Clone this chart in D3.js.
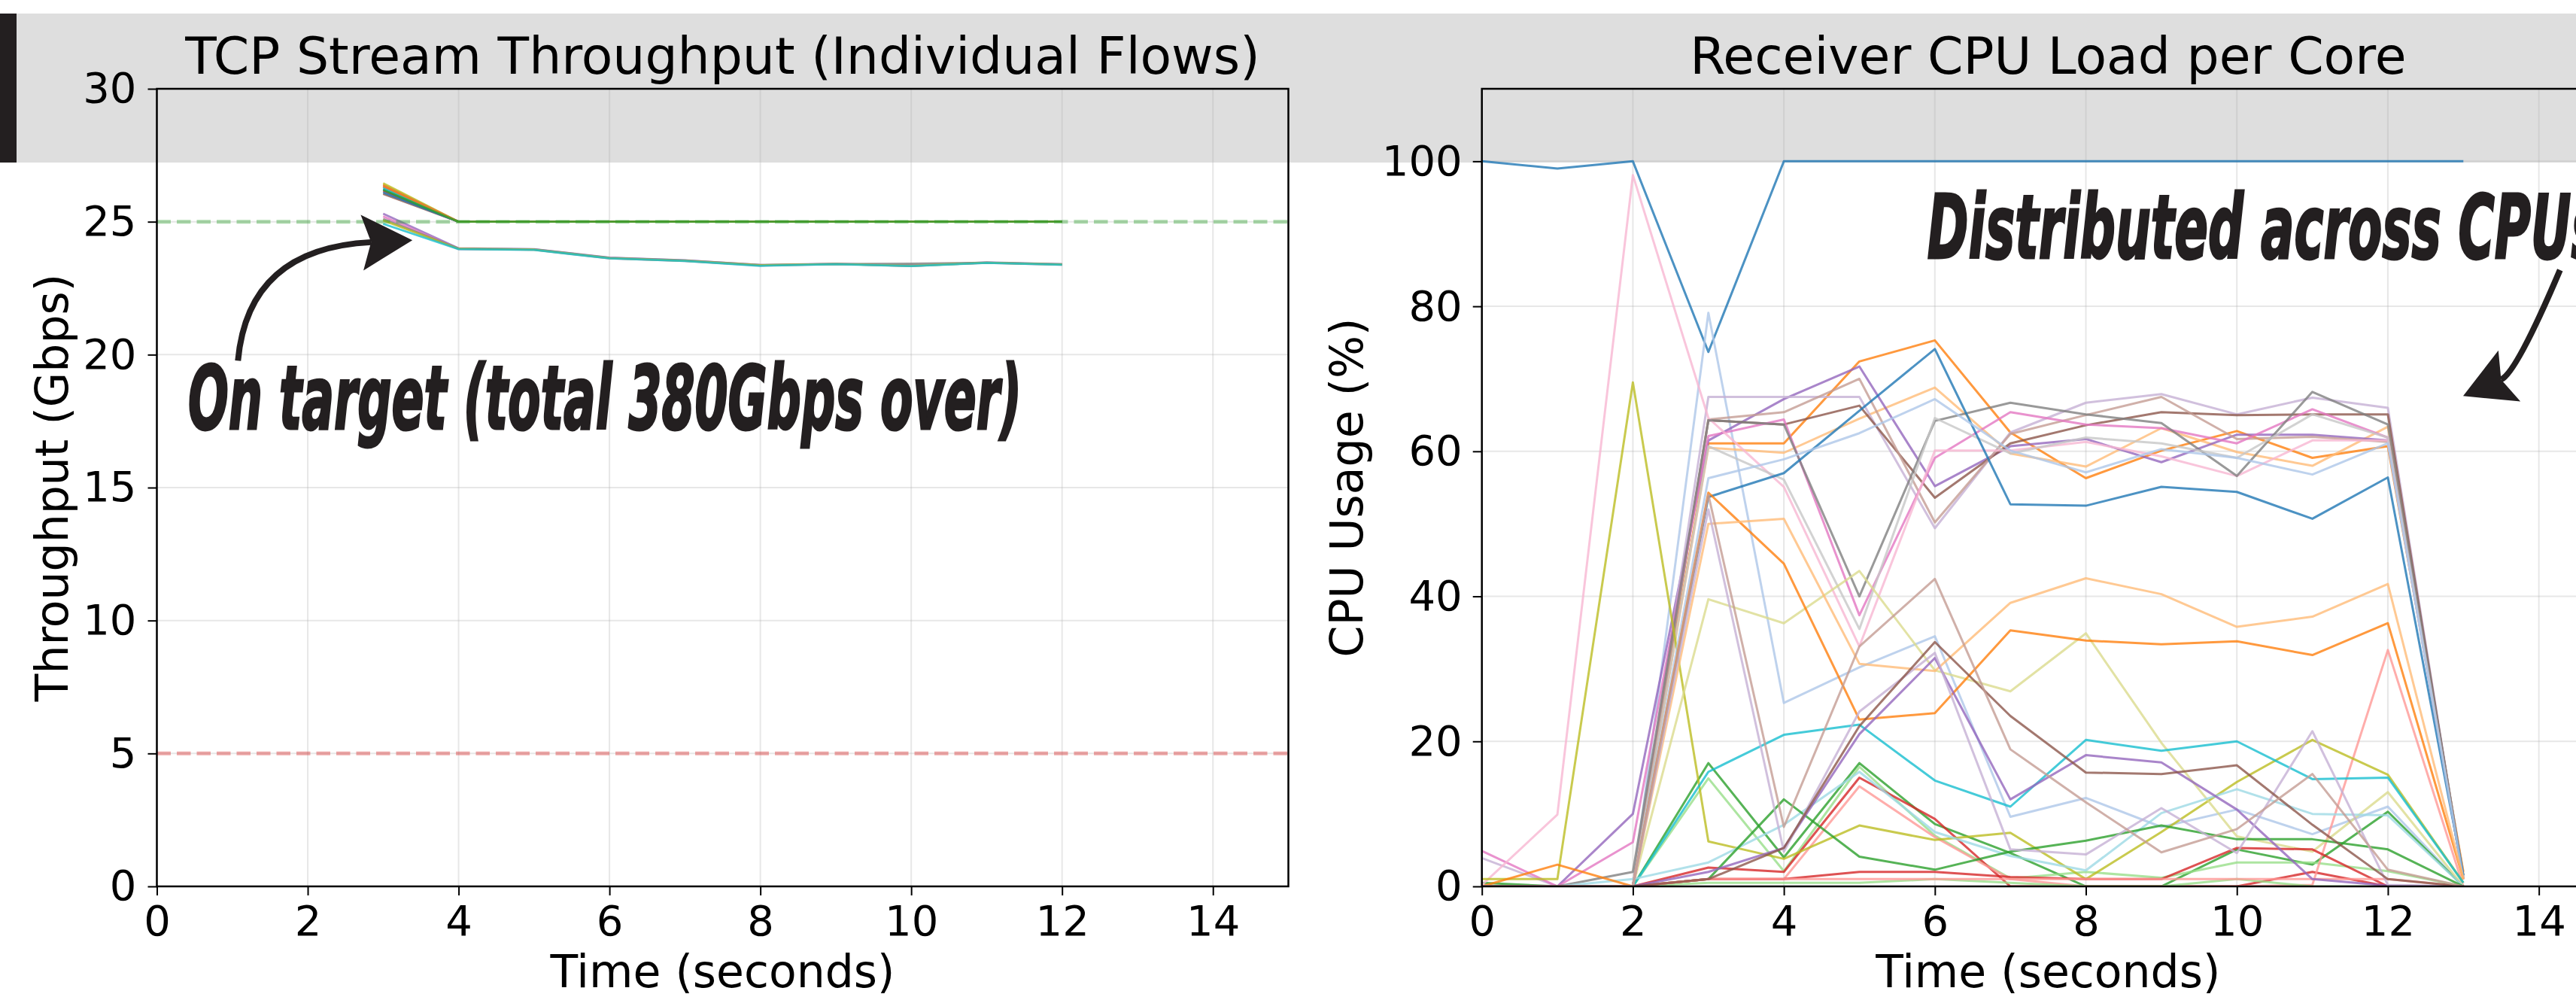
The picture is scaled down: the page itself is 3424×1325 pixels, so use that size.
<!DOCTYPE html>
<html><head><meta charset="utf-8">
<script src="https://cdn.jsdelivr.net/npm/d3@7"></script>
<style>html,body{margin:0;padding:0;background:#fff;overflow:hidden}svg{display:block}</style>
</head><body>
<svg id="chart" width="3424" height="1325"></svg>
<script>
// ---------------- DATA ----------------
const timeTicks = [0, 2, 4, 6, 8, 10, 12, 14];
const throughputTicks = [0, 5, 10, 15, 20, 25, 30];
const cpuTicks = [0, 20, 40, 60, 80, 100];
const targetLine = 25;
const floorLine = 5;

// TCP flows, t = 3..12 s (Gbps)
const flowTime = [3, 4, 5, 6, 7, 8, 9, 10, 11, 12];
// flows settling on the 25 Gbps target
const flow01 = [26.20, 25, 25, 25, 25, 25, 25, 25, 25, 25];
const flow02 = [26.40, 25, 25, 25, 25, 25, 25, 25, 25, 25];
const flow03 = [26.15, 25, 25, 25, 25, 25, 25, 25, 25, 25];
const flow04 = [26.05, 25, 25, 25, 25, 25, 25, 25, 25, 25];
const flow05 = [26.45, 25, 25, 25, 25, 25, 25, 25, 25, 25];
const flow06 = [26.35, 25, 25, 25, 25, 25, 25, 25, 25, 25];
const flow07 = [26.30, 25, 25, 25, 25, 25, 25, 25, 25, 25];
const flow08 = [26.25, 25, 25, 25, 25, 25, 25, 25, 25, 25];
const flow09 = [26.10, 25, 25, 25, 25, 25, 25, 25, 25, 25];
const flow10 = [26.35, 25, 25, 25, 25, 25, 25, 25, 25, 25];
const flow11 = [26.20, 25, 25, 25, 25, 25, 25, 25, 25, 25];
// flows settling slightly below target
const flow12 = [25.30, 24.00, 23.97, 23.65, 23.55, 23.37, 23.42, 23.33, 23.47, 23.40];
const flow13 = [25.20, 23.97, 23.95, 23.62, 23.52, 23.35, 23.40, 23.36, 23.45, 23.38];
const flow14 = [25.10, 23.99, 23.96, 23.64, 23.54, 23.37, 23.41, 23.42, 23.46, 23.40];
const flow15 = [25.05, 23.98, 23.95, 23.63, 23.53, 23.36, 23.41, 23.34, 23.46, 23.39];
const flow16 = [24.92, 23.97, 23.94, 23.62, 23.52, 23.34, 23.40, 23.33, 23.45, 23.38];
const flows = [flow01, flow02, flow03, flow04, flow05, flow06, flow07, flow08,
               flow09, flow10, flow11, flow12, flow13, flow14, flow15, flow16];

// CPU usage per core, t = 0..13 s (%)
const cpuTime = [0, 1, 2, 3, 4, 5, 6, 7, 8, 9, 10, 11, 12, 13];
const core00 = [100, 99, 100, 73.7, 100, 100, 100, 100, 100, 100, 100, 100, 100, 100];
const core01 = [0, 0, 0, 79.1, 25.3, 30.2, 34.5, 9.6, 12.2, 8.2, 10.6, 7.2, 11.0, 0];
const core02 = [0, 0, 0, 61.1, 61.1, 72.4, 75.3, 62.6, 56.3, 60.1, 62.8, 59.1, 60.7, 2.0];
const core03 = [0, 0, 0, 60.5, 59.8, 64.5, 68.8, 59.7, 57.9, 63.2, 59.9, 58.0, 63.4, 1.5];
const core04 = [0.5, 0, 0, 17.0, 4.0, 17.0, 8.6, 4.6, 0, 0, 5.1, 3.0, 10.3, 0];
const core05 = [0, 0, 0, 14.9, 2.1, 16.5, 7.0, 1.1, 2.0, 1.2, 3.3, 3.3, 2.1, 0];
const core06 = [0, 0, 0, 2.6, 2.0, 15.0, 9.3, 0, 0, 0, 0, 2.0, 0, 0];
const core07 = [0, 0, 0, 1.0, 1.0, 13.8, 6.8, 1.0, 0, 0, 0, 0.2, 32.6, 0];
const core08 = [0, 0, 10.0, 61.5, 67.2, 71.7, 55.2, 60.7, 61.7, 58.5, 62.3, 62.3, 61.5, 1.0];
const core09 = [3.9, 0, 0, 67.5, 67.5, 67.5, 49.4, 62.6, 66.7, 67.9, 65.1, 67.4, 66.0, 1.0];
const core10 = [0, 0, 0, 64.3, 63.7, 66.3, 53.6, 61.1, 63.6, 65.4, 65.0, 65.1, 65.1, 1.0];
const core11 = [0, 0, 0, 64.4, 65.4, 70.0, 50.2, 62.4, 65.0, 67.5, 61.7, 62.0, 61.3, 1.0];
const core12 = [4.9, 0, 6.1, 62.1, 64.4, 37.4, 59.1, 65.4, 63.7, 63.2, 61.1, 65.8, 61.9, 1.0];
const core13 = [0.2, 9.9, 98.1, 64.6, 55.1, 33.1, 60.1, 60.1, 61.3, 59.3, 56.6, 61.5, 61.5, 1.0];
const core14 = [0, 0, 2.0, 64.3, 63.7, 40.0, 64.2, 66.7, 65.1, 63.9, 56.6, 68.2, 63.7, 1.5];
const core15 = [0, 0, 0, 60.7, 56.1, 35.5, 64.6, 59.7, 61.9, 61.1, 59.1, 65.1, 61.9, 1.0];
const core16 = [1.0, 1.0, 69.5, 6.2, 3.8, 8.4, 6.4, 7.4, 1.0, 7.5, 14.4, 20.2, 15.4, 0.5];
const core17 = [0, 0, 0, 39.6, 36.3, 43.5, 29.8, 26.9, 34.9, 19.8, 6.9, 4.8, 13.0, 0];
const core18 = [0, 0, 0, 15.8, 20.9, 22.3, 14.6, 11.0, 20.2, 18.7, 20.0, 14.8, 15.0, 0.5];
const core19 = [0, 0, 1.0, 3.3, 8.5, 15.8, 7.5, 4.2, 2.2, 10.1, 13.4, 10.0, 9.8, 0];
const core20 = [0, 0, 0, 53.7, 57.0, 65.6, 74.1, 52.7, 52.5, 55.1, 54.4, 50.7, 56.4, 1.5];
const core21 = [0, 0, 0, 56.3, 58.9, 62.5, 67.2, 60.1, 57.1, 60.3, 59.1, 56.8, 61.1, 1.0];
const core22 = [0, 3.0, 0, 54.3, 44.5, 23.0, 23.9, 35.3, 33.9, 33.4, 33.8, 31.9, 36.3, 1.0];
const core23 = [0, 0, 0, 50.0, 50.7, 30.7, 29.7, 39.1, 42.5, 40.3, 35.8, 37.2, 41.7, 1.0];
const core24 = [0, 0, 0, 1.0, 12.0, 4.1, 2.3, 4.8, 6.3, 8.4, 6.5, 6.5, 5.1, 0];
const core25 = [0, 0, 0, 0.5, 0.5, 0.5, 1.0, 0.5, 0, 0, 1.0, 0, 0, 0];
const core26 = [0, 0, 0, 1.0, 1.0, 2.0, 2.0, 1.3, 1.0, 1.0, 5.3, 5.1, 0, 0];
const core27 = [0, 0, 0, 1.0, 1.0, 1.0, 1.0, 1.0, 1.0, 1.0, 1.0, 1.0, 1.0, 0];
const core28 = [0, 0, 0, 2.0, 5.3, 21.0, 31.5, 12.0, 18.1, 17.1, 10.6, 1.0, 0.1, 0];
const core29 = [0, 0, 0, 52.0, 4.8, 24.1, 32.2, 5.1, 4.4, 10.8, 4.6, 21.4, 0.2, 0];
const core30 = [0, 0, 0, 1.0, 5.3, 22.1, 33.7, 23.5, 15.7, 15.5, 16.7, 8.5, 1.0, 0];
const core31 = [0, 0, 0, 54.0, 8.2, 33.1, 42.4, 18.9, 11.6, 4.7, 7.9, 15.5, 2.3, 0];
const cores = [core00, core01, core02, core03, core04, core05, core06, core07,
               core08, core09, core10, core11, core12, core13, core14, core15,
               core16, core17, core18, core19, core20, core21, core22, core23,
               core24, core25, core26, core27, core28, core29, core30, core31];

// ---------------- STYLE / LAYOUT ----------------
const tab20 = ['#1f77b4','#aec7e8','#ff7f0e','#ffbb78','#2ca02c','#98df8a','#d62728','#ff9896',
  '#9467bd','#c5b0d5','#8c564b','#c49c94','#e377c2','#f7b6d2','#7f7f7f','#c7c7c7',
  '#bcbd22','#dbdb8d','#17becf','#9edae5'];
const tab10 = d3.schemeCategory10;
const flowColorIdx = [0, 1, 3, 5, 8, 4, 7, 9, 0, 1, 2, 4, 6, 7, 8, 9];
const INK = '#231f20';
const FONT = 'DejaVu Sans';

const svg = d3.select('#chart');
const W = 3424;
const plotTop = 118, plotBottom = 1178;

// header band
svg.append('rect').attr('x', 0).attr('y', 18).attr('width', W).attr('height', 198).attr('fill', '#dedede');
svg.append('rect').attr('x', 0).attr('y', 18).attr('width', 22).attr('height', 198).attr('fill', INK);

const xL = d3.scaleLinear().domain([0, 15]).range([208.5, 1712.5]);
const yL = d3.scaleLinear().domain([0, 30]).range([plotBottom, plotTop]);
const xR = d3.scaleLinear().domain([0, 15]).range([1969.7, 3475]);
const yR = d3.scaleLinear().domain([0, 110]).range([plotBottom, plotTop]);

function panel(x, y, yTicks, cfg) {
  const g = svg.append('g');
  const [x0, x1] = x.range();
  const clipId = 'clip' + cfg.id;
  svg.append('clipPath').attr('id', clipId).append('rect')
    .attr('x', x0).attr('y', plotTop).attr('width', x1 - x0).attr('height', plotBottom - plotTop);

  const grid = g.append('g').attr('stroke', '#b0b0b0').attr('stroke-opacity', 0.3).attr('stroke-width', 2);
  grid.selectAll('.vg').data(timeTicks).join('line')
    .attr('x1', d => x(d)).attr('x2', d => x(d)).attr('y1', plotTop).attr('y2', plotBottom);
  grid.selectAll('.hg').data(yTicks).join('line')
    .attr('x1', x0).attr('x2', x1).attr('y1', d => y(d)).attr('y2', d => y(d));

  const body = g.append('g').attr('clip-path', `url(#${clipId})`);
  cfg.draw(body);

  g.append('rect').attr('x', x0).attr('y', plotTop).attr('width', x1 - x0).attr('height', plotBottom - plotTop)
    .attr('fill', 'none').attr('stroke', '#000').attr('stroke-width', 2.5);

  const ax = g.append('g').attr('transform', `translate(0,${plotBottom})`)
    .call(d3.axisBottom(x).tickValues(timeTicks).tickFormat(d3.format('d')).tickSize(12).tickPadding(13).tickSizeOuter(0));
  const ay = g.append('g').attr('transform', `translate(${x0},0)`)
    .call(d3.axisLeft(y).tickValues(yTicks).tickFormat(d3.format('d')).tickSize(12).tickPadding(cfg.yPad).tickSizeOuter(0));
  [ax, ay].forEach(a => {
    a.select('.domain').remove();
    a.attr('font-family', FONT).attr('font-size', 56);
    a.selectAll('line').attr('stroke', '#000').attr('stroke-width', 2);
    a.selectAll('text').attr('fill', '#000');
  });

  g.append('text').attr('x', (x0 + x1) / 2).attr('y', 98).attr('text-anchor', 'middle')
    .attr('font-family', FONT).attr('font-size', 68).attr('fill', '#000').text(cfg.title);
  g.append('text').attr('x', (x0 + x1) / 2).attr('y', 1312).attr('text-anchor', 'middle')
    .attr('font-family', FONT).attr('font-size', 60).attr('fill', '#000').text('Time (seconds)');
  g.append('text').attr('transform', `translate(${cfg.yLabelX},${(plotTop + plotBottom) / 2}) rotate(-90)`)
    .attr('text-anchor', 'middle').attr('font-family', FONT).attr('font-size', 60).attr('fill', '#000')
    .text(cfg.yLabel);
  return g;
}

// ----- Left panel -----
panel(xL, yL, throughputTicks, {
  id: 'L', title: 'TCP Stream Throughput (Individual Flows)', yLabel: 'Throughput (Gbps)',
  yLabelX: 90, yPad: 15,
  draw(body) {
    const line = d3.line().x((d, i) => xL(flowTime[i])).y(d => yL(d));
    body.selectAll('.flow').data(flows).join('path')
      .attr('d', line).attr('fill', 'none')
      .attr('stroke', (d, i) => tab10[flowColorIdx[i]]).attr('stroke-opacity', 0.8).attr('stroke-width', 2.8)
      .attr('stroke-linejoin', 'round');
    body.append('line').attr('x1', xL(0)).attr('x2', xL(15)).attr('y1', yL(targetLine)).attr('y2', yL(targetLine))
      .attr('stroke', '#2ca02c').attr('stroke-opacity', 0.4).attr('stroke-width', 5).attr('stroke-dasharray', '18.5,8');
    body.append('line').attr('x1', xL(0)).attr('x2', xL(15)).attr('y1', yL(floorLine)).attr('y2', yL(floorLine))
      .attr('stroke', '#d62728').attr('stroke-opacity', 0.4).attr('stroke-width', 5).attr('stroke-dasharray', '18.5,8');
  }
});

// ----- Right panel -----
panel(xR, yR, cpuTicks, {
  id: 'R', title: 'Receiver CPU Load per Core', yLabel: 'CPU Usage (%)',
  yLabelX: 1811, yPad: 14,
  draw(body) {
    const line = d3.line().x((d, i) => xR(cpuTime[i])).y(d => yR(d));
    body.selectAll('.core').data(cores).join('path')
      .attr('d', line).attr('fill', 'none')
      .attr('stroke', (d, i) => tab20[i % 20]).attr('stroke-opacity', 0.8).attr('stroke-width', 3)
      .attr('stroke-linejoin', 'round');
  }
});

// ---------------- ANNOTATIONS ----------------
function curvedArrow(x, y, start, ctrl, end) {
  const p0 = [x(start[0]), y(start[1])], c = [x(ctrl[0]), y(ctrl[1])], p1 = [x(end[0]), y(end[1])];
  const path = d3.path();
  path.moveTo(p0[0], p0[1]);
  path.quadraticCurveTo(c[0], c[1], p1[0], p1[1]);
  svg.append('path').attr('d', path.toString()).attr('fill', 'none').attr('stroke', INK).attr('stroke-width', 8);
  const dx = p1[0] - c[0], dy = p1[1] - c[1], len = Math.hypot(dx, dy);
  const ux = dx / len, uy = dy / len, nx = -uy, ny = ux;
  const tip = [p1[0] + 55 * ux, p1[1] + 55 * uy];
  const back = [tip[0] - 67 * ux, tip[1] - 67 * uy];
  const pts = [tip, [back[0] + 37 * nx, back[1] + 37 * ny], p1, [back[0] - 37 * nx, back[1] - 37 * ny]];
  svg.append('path').attr('d', 'M' + pts.map(p => p.join(',')).join('L') + 'Z').attr('fill', INK);
}
function annoText(x, y, pos, txt, len) {
  svg.append('text').attr('x', x(pos[0])).attr('y', y(pos[1]))
    .attr('font-family', 'DejaVu Sans Condensed, DejaVu Sans').attr('font-weight', 'bold').attr('font-style', 'italic')
    .attr('font-size', 118).attr('fill', INK).attr('stroke', INK).attr('stroke-width', 3)
    .attr('textLength', len).attr('lengthAdjust', 'spacingAndGlyphs').text(txt);
}
curvedArrow(xL, yL, [1.075, 19.77], [1.21, 24.0], [2.84, 24.23]);
annoText(xL, yL, [0.414, 17.2], 'On target (total 380Gbps over)', 1108);
curvedArrow(xR, yR, [14.28, 85.0], [13.70, 70.8], [13.50, 69.9]);
annoText(xR, yR, [5.90, 86.6], 'Distributed across CPUs', 895);
</script>
</body></html>
